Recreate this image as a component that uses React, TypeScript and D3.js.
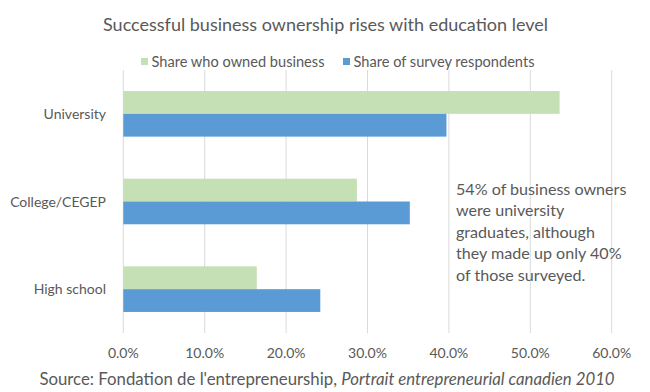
import React from "react";
import * as d3 from "d3";

const title = "Successful business ownership rises with education level";
const categories = ["University", "College/CEGEP", "High school"];
const seriesNames = ["Share who owned business", "Share of survey respondents"];
const ownedBusiness = [0.536, 0.287, 0.164];
const surveyRespondents = [0.397, 0.352, 0.242];
const seriesValues = [ownedBusiness, surveyRespondents];
const seriesColors = ["#C5E0B4", "#5B9BD5"];
const xTicks = [0, 0.1, 0.2, 0.3, 0.4, 0.5, 0.6];
const annotationLines = [
  "54% of business owners",
  "were university",
  "graduates, although",
  "they made up only 40%",
  "of those surveyed.",
];
const sourcePlain = "Source: Fondation de l'entrepreneurship, ";
const sourceItalic = "Portrait entrepreneurial canadien 2010";

const W = 650;
const H = 392;
const FONT = "Lato, 'Open Sans', sans-serif";
const TEXT = "#595959";

export default function App() {
  const x = d3.scaleLinear().domain([0, 0.6]).range([123.3, 611.7]);
  const y = d3
    .scaleBand<string>()
    .domain(categories)
    .range([70, 333])
    .paddingInner(0.48)
    .paddingOuter(0.24);
  const ys = d3
    .scaleBand<string>()
    .domain(seriesNames)
    .range([0, y.bandwidth()]);
  const fmt = d3.format(".1%");

  return (
    <svg
      width={W}
      height={H}
      style={{ position: "absolute", left: 0, top: 0, background: "#fff" }}
      fontFamily={FONT}
    >
      <rect width={W} height={H} fill="#fff" />
      <text x={325.5} y={31} textAnchor="middle" fontSize={18} fill={TEXT}>
        {title}
      </text>

      {/* legend */}
      {seriesNames.map((s, i) => {
        const lx = i === 0 ? 141 : 343;
        return (
          <g key={s}>
            <rect x={lx} y={58} width={7} height={7} fill={seriesColors[i]} />
            <text x={lx + 10.5} y={66.5} fontSize={14.6} fill={TEXT}>
              {s}
            </text>
          </g>
        );
      })}

      {/* gridlines */}
      {xTicks.map((t) => (
        <line
          key={t}
          x1={x(t)}
          x2={x(t)}
          y1={70}
          y2={333}
          stroke="#D9D9D9"
          strokeWidth={1}
        />
      ))}

      {/* bars */}
      {categories.map((c, ci) =>
        seriesNames.map((s, si) => (
          <rect
            key={c + s}
            x={x(0)}
            y={(y(c) ?? 0) + (ys(s) ?? 0)}
            width={x(seriesValues[si][ci]) - x(0)}
            height={ys.bandwidth()}
            fill={seriesColors[si]}
          />
        ))
      )}

      {/* category labels */}
      {categories.map((c) => (
        <text
          key={c}
          x={106}
          y={(y(c) ?? 0) + y.bandwidth() / 2 + 5}
          textAnchor="end"
          fontSize={14}
          fill={TEXT}
        >
          {c}
        </text>
      ))}

      {/* tick labels */}
      {xTicks.map((t) => (
        <text
          key={t}
          x={x(t)}
          y={357.5}
          textAnchor="middle"
          fontSize={14}
          fill={TEXT}
        >
          {fmt(t)}
        </text>
      ))}

      {/* annotation */}
      {annotationLines.map((l, i) => (
        <text key={i} x={456} y={194.5 + i * 21.5} fontSize={16.1} fill={TEXT}>
          {l}
        </text>
      ))}

      {/* source */}
      <text x={327} y={385} textAnchor="middle" fontSize={16.8} fill={TEXT}>
        <tspan>{sourcePlain}</tspan>
        <tspan fontStyle="italic">{sourceItalic}</tspan>
      </text>
    </svg>
  );
}
